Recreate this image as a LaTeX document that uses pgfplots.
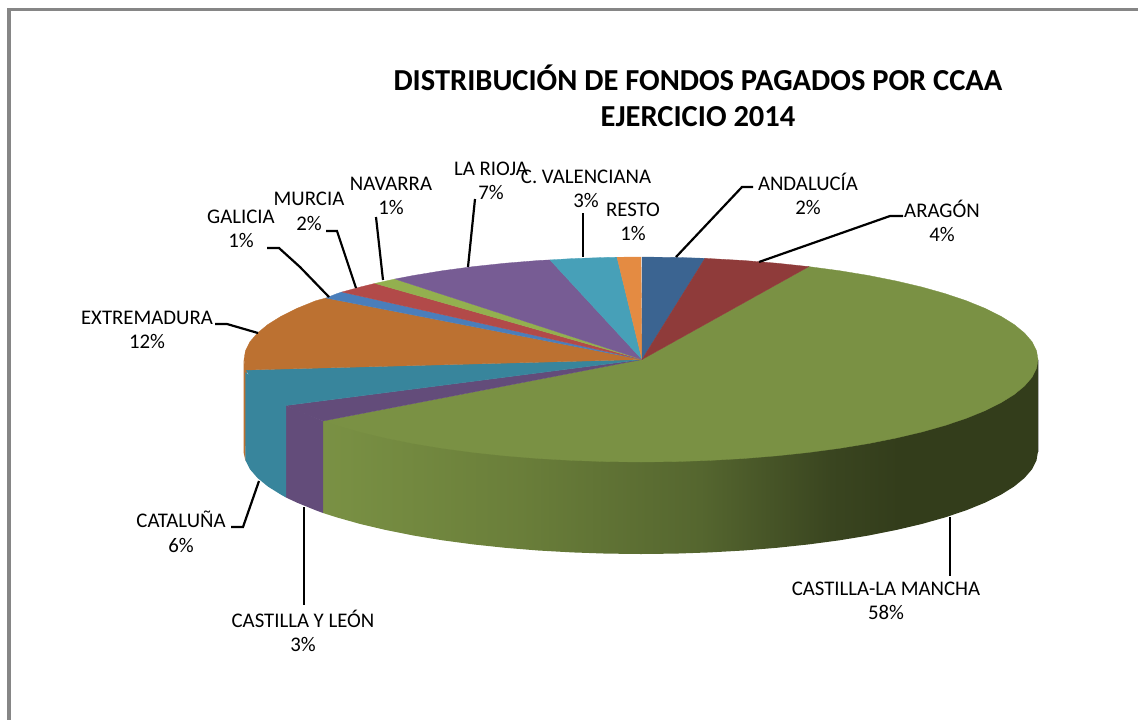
\documentclass[border=0pt]{standalone}
\usepackage{pgfplots}
\pgfplotsset{compat=1.18}
\usepackage{fontspec}
\setmainfont{Carlito}
\definecolor{cBlue}{HTML}{3B6491}
\definecolor{cRed}{HTML}{8F3B3A}
\definecolor{cGreen}{HTML}{7A9144}
\definecolor{cPurple}{HTML}{634C7A}
\definecolor{cTeal}{HTML}{38859C}
\definecolor{cOrange}{HTML}{BC7131}
\definecolor{cGal}{HTML}{4A7EBB}
\definecolor{cMur}{HTML}{B24A49}
\definecolor{cNav}{HTML}{93B04F}
\definecolor{cRio}{HTML}{775C94}
\definecolor{cVal}{HTML}{47A0B8}
\definecolor{cRes}{HTML}{E48B42}
\definecolor{cFrame}{HTML}{868686}
\pgfdeclarehorizontalshading{greenside}{100bp}{
  rgb(0bp)=(0.478,0.569,0.267);
  rgb(25bp)=(0.478,0.569,0.267);
  rgb(38.8bp)=(0.415,0.495,0.227);
  rgb(51.4bp)=(0.333,0.400,0.184);
  rgb(60.5bp)=(0.227,0.271,0.125);
  rgb(65.3bp)=(0.200,0.239,0.106);
  rgb(100bp)=(0.200,0.239,0.106)}
\newcommand{\lab}[4]{\node[align=center,font=\fontsize{20.8bp}{24.5bp}\selectfont] at (axis cs:#1,#2) {#3\\#4};}
\begin{document}
\begin{tikzpicture}
\path[use as bounding box] (0,0) rectangle (1138bp,720bp);
\begin{axis}[at={(0,0)},anchor=south west,scale only axis,width=1138bp,height=720bp,
  xmin=0,xmax=1138,ymin=0,ymax=720,y dir=reverse,hide axis,clip=false,no markers]
% frame
\addplot[draw=cFrame,line width=3.4bp] coordinates {(9,720) (9,9.5) (1138,9.5)};
% sides
\addplot[shading=greenside,draw=none] coordinates {(1038,359.5) (1038,451.5) (1036.5,460.4) (1032,469.3) (1024.5,478) (1014,486.6) (1000.8,494.8) (984.8,502.75) (966.2,510.3) (945.1,517.4) (921.7,524) (896.2,530) (868.7,535.5) (839.5,540.3) (808.8,544.4) (776.8,547.8) (743.7,550.5) (709.9,552.4) (675.6,553.6) (641,554) (606.4,553.6) (572.1,552.4) (538.3,550.5) (505.2,547.8) (473.2,544.4) (442.5,540.3) (413.3,535.5) (385.8,530) (360.3,524) (336.9,517.4) (323,513) (323,421) (641,380)} -- cycle;
\addplot[fill=cPurple,draw=none] coordinates {(323,513) (315.8,510.3) (297.2,502.75) (286,497.5) (286,405.5) (323,421)} -- cycle;
\addplot[fill=cOrange,draw=none] coordinates {(243.5,360) (243.5,452) (245.5,461) (247,370)} -- cycle;
\addplot[fill=cTeal,draw=none] coordinates {(286,497.5) (281.2,494.8) (268,486.6) (257.5,478) (250,469.3) (245.5,460.4) (245.3,372) (286,405.5)} -- cycle;
\addplot[draw=gray!60,line width=1bp] coordinates {(1038.5,360) (1038.5,452)};
% top face
\addplot[fill=cGreen,draw=cGreen,line width=0.3bp] coordinates {(642,359.5) (808.8,266.6) (839.5,270.7) (868.7,275.5) (896.2,281) (921.7,287) (945.1,293.6) (966.2,300.7) (984.8,308.25) (1000.8,316.2) (1014,324.4) (1024.5,333) (1032,341.7) (1036.5,350.6) (1038,359.5) (1036.5,368.4) (1032,377.3) (1024.5,386) (1014,394.6) (1000.8,402.8) (984.8,410.75) (966.2,418.3) (945.1,425.4) (921.7,432) (896.2,438) (868.7,443.5) (839.5,448.3) (808.8,452.4) (776.8,455.8) (743.7,458.5) (709.9,460.4) (675.6,461.6) (641,462) (606.4,461.6) (572.1,460.4) (538.3,458.5) (505.2,455.8) (473.2,452.4) (442.5,448.3) (413.3,443.5) (385.8,438) (360.3,432) (336.9,425.4) (323,421)} -- cycle;
\addplot[fill=cPurple,draw=cPurple,line width=0.3bp] coordinates {(642,359.5) (323,421) (315.8,418.3) (297.2,410.75) (286,405.5)} -- cycle;
\addplot[fill=cTeal,draw=cTeal,line width=0.3bp] coordinates {(642,359.5) (286,405.5) (281.2,402.8) (268,394.6) (257.5,386) (250,377.3) (246,370)} -- cycle;
\addplot[fill=cOrange,draw=cOrange,line width=0.3bp] coordinates {(642,359.5) (246,370) (244,359.5) (245.5,350.6) (250,341.7) (257.5,333) (268,324.4) (281.2,316.2) (297.2,308.25) (315.8,300.7) (326,298)} -- cycle;
\addplot[fill=cGal,draw=cGal,line width=0.3bp] coordinates {(642,359.5) (326,298) (336.9,293.6) (342,292)} -- cycle;
\addplot[fill=cMur,draw=cMur,line width=0.3bp] coordinates {(642,359.5) (342,292) (360.3,287) (375,283.4)} -- cycle;
\addplot[fill=cNav,draw=cNav,line width=0.3bp] coordinates {(642,359.5) (375,283.4) (395,279)} -- cycle;
\addplot[fill=cRio,draw=cRio,line width=0.3bp] coordinates {(642,359.5) (395,279) (413.3,275.5) (442.5,270.7) (473.2,266.6) (505.2,263.2) (538.3,260.5) (550,259.9)} -- cycle;
\addplot[fill=cVal,draw=cVal,line width=0.3bp] coordinates {(642,359.5) (550,259.9) (572.1,258.6) (606.4,257.4) (617,257.2)} -- cycle;
\addplot[fill=cRes,draw=cRes,line width=0.3bp] coordinates {(642,359.5) (617,257.2) (641,257)} -- cycle;
\addplot[fill=cBlue,draw=cBlue,line width=0.3bp] coordinates {(642,359.5) (642,257) (675.6,257.4) (705,258.3)} -- cycle;
\addplot[fill=cRed,draw=cRed,line width=0.3bp] coordinates {(642,359.5) (705,258.3) (709.9,258.6) (743.7,260.5) (776.8,263.2) (808.8,266.6)} -- cycle;
% leaders
\addplot[black,line width=2.2bp] coordinates {(267,248) (279,248) (300,267) (329,297)};
\addplot[black,line width=2.2bp] coordinates {(326,231) (337,231) (356,288)};
\addplot[black,line width=2.2bp] coordinates {(376,217) (383,280)};
\addplot[black,line width=2.2bp] coordinates {(475,199) (468,267)};
\addplot[black,line width=2.4bp] coordinates {(583,213) (583,257)};
\addplot[black,line width=2.2bp] coordinates {(215,324) (227,324) (258,333)};
\addplot[black,line width=2.2bp] coordinates {(753,187) (742,187) (676,257)};
\addplot[black,line width=2.2bp] coordinates {(903,216) (890,216) (759,262)};
\addplot[black,line width=2.2bp] coordinates {(231,527) (243,527) (259,481)};
\addplot[black,line width=2.4bp] coordinates {(304,507) (304,605)};
\addplot[black,line width=1.8bp] coordinates {(950,517) (950,576)};
% labels
\node[align=center,font=\fontsize{30.5bp}{36bp}\selectfont\bfseries] at (axis cs:698,95.5) {DISTRIBUCIÓN DE FONDOS PAGADOS POR CCAA\\EJERCICIO 2014};
\lab{241}{229}{GALICIA}{1\%}
\lab{309}{211.5}{MURCIA}{2\%}
\lab{391}{196}{NAVARRA}{1\%}
\lab{491}{181}{LA RIOJA}{7\%}
\lab{586}{189}{C. VALENCIANA}{3\%}
\lab{633}{222}{RESTO}{1\%}
\lab{808}{194}{ANDALUCÍA}{2\%}
\lab{942}{221}{ARAGÓN}{4\%}
\lab{147}{330}{EXTREMADURA}{12\%}
\lab{181}{532}{CATALUÑA}{6\%}
\lab{303}{631}{CASTILLA Y LEÓN}{3\%}
\lab{886}{601}{CASTILLA-LA MANCHA}{58\%}
\end{axis}
\end{tikzpicture}
\end{document}
